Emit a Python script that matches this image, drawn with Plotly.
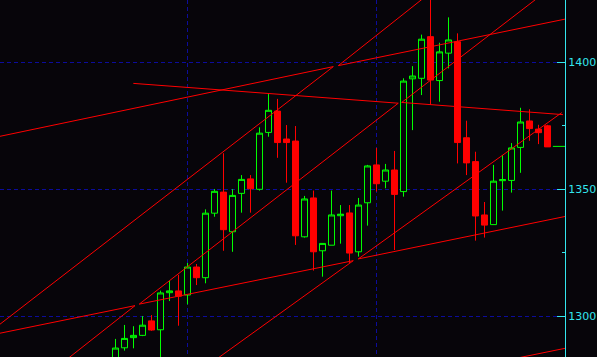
import plotly.graph_objects as go

# Daily OHLC bars (bar index 0 = leftmost visible bar)
bar_index = list(range(49))
open_ = [1282.0, 1287.6, 1291.6, 1292.5, 1298.2, 1294.7, 1309.3, 1310.0, 1308.4, 1319.4,
         1315.2, 1340.6, 1348.9, 1333.3, 1348.4, 1354.1, 1350.0, 1372.4, 1380.8, 1369.8,
         1369.0, 1331.3, 1346.6, 1325.8, 1328.0, 1339.6, 1340.7, 1325.4, 1344.7, 1359.6,
         1353.2, 1357.6, 1349.1, 1393.5, 1393.7, 1410.1, 1392.8, 1403.6, 1408.1, 1370.3,
         1360.9, 1339.9, 1336.1, 1353.4, 1353.5, 1366.5, 1376.9, 1373.7, 1375.0]
high = [1291.1, 1296.6, 1296.1, 1300.1, 1300.5, 1310.1, 1313.9, 1316.3, 1321.0, 1320.6,
        1342.1, 1350.1, 1364.2, 1350.1, 1355.6, 1355.6, 1374.4, 1387.5, 1385.6, 1375.3,
        1374.9, 1347.4, 1349.5, 1328.7, 1349.5, 1343.8, 1343.8, 1346.6, 1359.6, 1366.3,
        1360.0, 1365.1, 1393.7, 1398.5, 1410.9, 1426.0, 1407.7, 1417.7, 1411.4, 1377.0,
        1364.8, 1345.0, 1359.6, 1363.5, 1368.2, 1382.1, 1381.5, 1375.4, 1375.4]
low = [1280.0, 1286.5, 1287.4, 1292.2, 1294.3, 1281.0, 1306.0, 1296.3, 1304.7, 1312.3,
       1313.0, 1339.2, 1325.8, 1325.4, 1340.8, 1340.8, 1349.5, 1370.7, 1362.4, 1352.6,
       1328.1, 1331.0, 1318.0, 1315.6, 1328.0, 1328.6, 1321.0, 1323.5, 1335.7, 1349.1,
       1350.4, 1326.1, 1347.1, 1373.3, 1387.1, 1383.2, 1384.5, 1397.6, 1360.2, 1355.6,
       1329.8, 1331.0, 1336.1, 1341.6, 1348.7, 1356.5, 1369.1, 1367.8, 1366.7]
close = [1287.5, 1291.3, 1292.5, 1296.5, 1294.6, 1309.2, 1310.0, 1307.9, 1319.4, 1315.2,
         1340.6, 1349.2, 1334.1, 1347.6, 1353.9, 1350.2, 1372.1, 1381.1, 1368.4, 1368.4,
         1331.7, 1346.2, 1325.4, 1328.7, 1339.9, 1340.2, 1324.9, 1343.8, 1359.2, 1352.2,
         1357.6, 1348.0, 1392.6, 1394.6, 1409.1, 1393.0, 1404.1, 1408.8, 1368.4, 1360.4,
         1339.5, 1335.9, 1353.2, 1353.8, 1366.3, 1376.5, 1373.9, 1372.3, 1366.7]
last_price = 1366.9

# Trend lines as pairs of anchor points (bar index, price)
trend_lines = [
    ((-14.0, 1370.0), (24.2, 1398.3)),
    ((24.76, 1398.7), (50.5, 1417.4)),
    ((1.98, 1391.7), (31.42, 1383.9)),
    ((31.8, 1384.2), (49.72, 1379.4)),
    ((-14.0, 1293.7), (24.2, 1398.3)),
    ((-6.89, 1278.9), (2.17, 1304.2)),
    ((-14.0, 1292.5), (2.17, 1304.2)),
    ((2.64, 1304.8), (26.42, 1321.9)),
    ((26.98, 1322.6), (50.5, 1339.7)),
    ((2.64, 1304.8), (31.42, 1383.9)),
    ((9.56, 1278.9), (26.42, 1321.9)),
    ((31.8, 1384.2), (48.06, 1428.5)),
    ((26.98, 1322.6), (49.59, 1380.2)),
    ((24.76, 1398.7), (35.37, 1428.5)),
    ((38.17, 1278.9), (50.5, 1287.8)),
]

price_ticks = [1300, 1350, 1400]
grid_bars = [8, 29]

BG = "#07050a"
UP = "#00ff00"
DOWN = "#ff0000"
AXIS = "#33e6ee"
GRID = "#0c0c9c"

fig = go.Figure()

fig.add_trace(go.Candlestick(
    x=bar_index, open=open_, high=high, low=low, close=close,
    increasing=dict(line=dict(color=UP, width=1), fillcolor=BG),
    decreasing=dict(line=dict(color=DOWN, width=1), fillcolor=DOWN),
    whiskerwidth=0, showlegend=False, hoverinfo="skip",
))

for (x0, p0), (x1, p1) in trend_lines:
    fig.add_trace(go.Scatter(
        x=[x0, x1], y=[p0, p1], mode="lines",
        line=dict(color=DOWN, width=1), showlegend=False, hoverinfo="skip",
    ))

# current price marker to the right of the last bar
n = len(bar_index)
fig.add_trace(go.Scatter(
    x=[n - 0.4, n + 0.95], y=[last_price, last_price], mode="lines",
    line=dict(color=UP, width=1), showlegend=False, hoverinfo="skip",
))

fig.update_layout(
    width=597, height=357,
    margin=dict(l=0, r=32, t=0, b=0),
    paper_bgcolor=BG, plot_bgcolor=BG,
    showlegend=False,
    boxgap=0.33, boxgroupgap=0,
    xaxis=dict(
        range=[-12.833, 49.944], tickmode="array", tickvals=grid_bars,
        showticklabels=False, ticks="", showgrid=True, gridcolor=GRID,
        griddash="4px,3px", gridwidth=1, zeroline=False, showline=False,
        rangeslider=dict(visible=False),
    ),
    yaxis=dict(
        side="right", range=[1283.98, 1424.53],
        tickmode="array", tickvals=price_ticks,
        ticks="inside", ticklen=8, tickwidth=1, tickcolor=AXIS,
        showline=True, linecolor=AXIS, linewidth=1,
        showgrid=True, gridcolor=GRID, griddash="4px,3px", gridwidth=1,
        zeroline=False,
        tickfont=dict(family="DejaVu Sans", size=11, color=AXIS),
        minor=dict(ticks="inside", ticklen=3, tickcolor=AXIS, tickwidth=1,
                   tickmode="linear", tick0=1300, dtick=25, showgrid=False),
    ),
)

fig.write_html("out.html")
